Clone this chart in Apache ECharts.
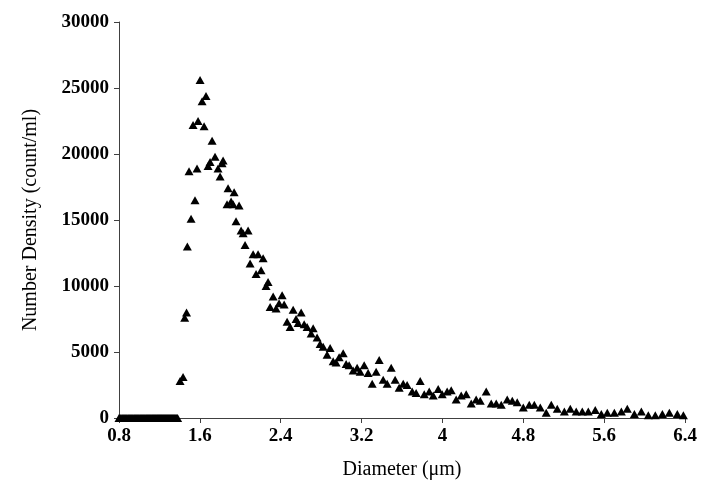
<!DOCTYPE html>
<html>
<head>
<meta charset="utf-8">
<script src="https://cdn.jsdelivr.net/npm/echarts@6/dist/echarts.min.js"></script>
<style>
html,body{margin:0;padding:0;background:#fff;}
#chart{width:712px;height:501px;}
</style>
</head>
<body>
<div id="chart"></div>
<script>
// Diameter (µm) of each measured bin
const diameters = [
  0.80,0.81,0.82,0.83,0.84,0.85,0.86,0.87,0.88,0.89,
  0.90,0.91,0.92,0.93,0.94,0.95,0.96,0.97,0.98,0.99,
  1.00,1.01,1.02,1.03,1.04,1.05,1.06,1.07,1.08,1.09,
  1.10,1.11,1.12,1.13,1.14,1.15,1.16,1.17,1.18,1.19,
  1.20,1.21,1.22,1.23,1.24,1.25,1.26,1.27,1.28,1.29,
  1.30,1.31,1.32,1.33,1.34,1.35,1.36,1.37,1.38,
  1.404,1.434,1.450,1.468,1.476,1.493,1.513,1.533,1.552,1.572,
  1.582,1.602,1.622,1.642,1.661,1.681,1.701,1.721,1.750,1.780,
  1.800,1.820,1.830,1.869,1.879,1.909,1.929,1.939,1.958,1.988,
  2.008,2.028,2.047,2.077,2.097,2.127,2.156,2.176,2.206,2.226,
  2.255,2.275,2.295,2.325,2.354,2.384,2.414,2.434,2.463,2.493,
  2.523,2.552,2.572,2.602,2.632,2.661,2.701,2.721,2.760,2.790,
  2.820,2.859,2.889,2.919,2.948,2.978,3.018,3.047,3.077,3.117,
  3.156,3.186,3.226,3.265,3.305,3.344,3.374,3.414,3.453,3.493,
  3.532,3.572,3.612,3.651,3.701,3.740,3.780,3.820,3.869,3.909,
  3.958,3.998,4.047,4.087,4.136,4.186,4.235,4.285,4.334,4.374,
  4.433,4.483,4.532,4.582,4.641,4.691,4.740,4.800,4.859,4.909,
  4.968,5.027,5.077,5.136,5.206,5.265,5.324,5.384,5.443,5.512,
  5.572,5.631,5.701,5.770,5.829,5.899,5.968,6.037,6.106,6.176,
  6.245,6.324,6.384
];
// Number density (count/ml) for each bin
const densities = [
  0,0,0,0,0,0,0,0,0,0,
  0,0,0,0,0,0,0,0,0,0,
  0,0,0,0,0,0,0,0,0,0,
  0,0,0,0,0,0,0,0,0,0,
  0,0,0,0,0,0,0,0,0,0,
  0,0,0,0,0,0,0,0,0,
  2800,3100,7600,8000,13000,18700,15100,22200,16500,18900,
  22500,25600,24000,22100,24400,19100,19400,21000,19800,18900,
  18300,19300,19500,16200,17400,16400,16200,17100,14900,16100,
  14200,14000,13100,14200,11700,12400,10900,12400,11200,12100,
  10000,10300,8400,9200,8300,8700,9300,8600,7300,6900,
  8200,7500,7200,8000,7100,6900,6400,6800,6100,5600,
  5400,4800,5300,4300,4200,4600,4900,4100,4000,3600,
  3800,3500,4000,3400,2600,3500,4400,2900,2600,3800,
  2900,2300,2600,2500,2000,1900,2800,1800,2000,1700,
  2200,1800,2000,2100,1400,1700,1800,1100,1400,1300,
  2000,1100,1100,1000,1400,1300,1200,800,1000,1000,
  800,400,1000,700,500,700,500,500,500,600,
  300,400,400,500,700,300,500,200,200,300,
  400,300,200
];
const xTicks = [0.8, 1.6, 2.4, 3.2, 4.0, 4.8, 5.6, 6.4];
const yTicks = [0, 5000, 10000, 15000, 20000, 25000, 30000];

const points = diameters.map((d, i) => [d, densities[i]]);
const serif = '"Liberation Serif", "Times New Roman", serif';
const axisColor = '#404040';

const chart = echarts.init(document.getElementById('chart'), null, {renderer: 'canvas'});
chart.setOption({
  animation: false,
  backgroundColor: '#ffffff',
  grid: {left: 119, right: 27, top: 22, bottom: 83, containLabel: false},
  xAxis: {
    type: 'value',
    min: xTicks[0],
    max: xTicks[xTicks.length - 1],
    interval: 0.8,
    name: 'Diameter (\u03bcm)',
    nameLocation: 'middle',
    nameGap: 42,
    nameTextStyle: {fontFamily: serif, fontSize: 20, color: '#000'},
    axisLine: {show: true, lineStyle: {color: axisColor, width: 1}},
    axisTick: {show: true, inside: false, length: 5, lineStyle: {color: axisColor}},
    splitLine: {show: false},
    axisLabel: {
      fontFamily: serif, fontSize: 19, fontWeight: 'bold', color: '#000', margin: 9,
      formatter: v => String(+v.toFixed(1))
    }
  },
  yAxis: {
    type: 'value',
    min: yTicks[0],
    max: yTicks[yTicks.length - 1],
    interval: 5000,
    name: 'Number Density (count/ml)',
    nameLocation: 'middle',
    nameRotate: 90,
    nameGap: 78,
    nameTextStyle: {fontFamily: serif, fontSize: 20, color: '#000'},
    axisLine: {show: true, lineStyle: {color: axisColor, width: 1}},
    axisTick: {show: true, inside: false, length: 5, lineStyle: {color: axisColor}},
    splitLine: {show: false},
    axisLabel: {
      fontFamily: serif, fontSize: 19, fontWeight: 'bold', color: '#000', margin: 10,
      formatter: v => String(v)
    }
  },
  series: [{
    type: 'scatter',
    data: points,
    symbol: 'triangle',
    symbolSize: [9, 8],
    itemStyle: {color: '#000000', opacity: 1},
    clip: false
  }]
});
</script>
</body>
</html>
